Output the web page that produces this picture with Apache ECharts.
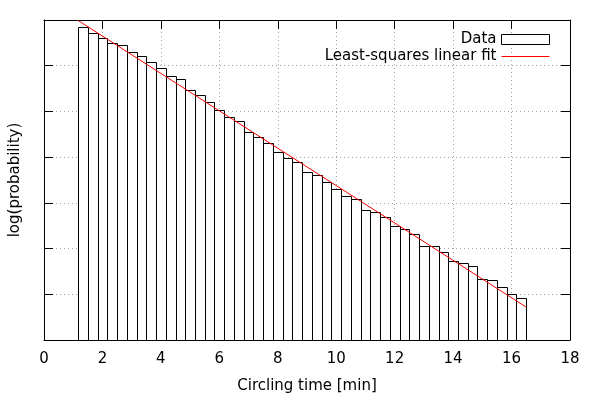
<!DOCTYPE html>
<html>
<head>
<meta charset="utf-8">
<script src="https://cdn.jsdelivr.net/npm/echarts@6/dist/echarts.min.js"></script>
<style>html,body{margin:0;padding:0;background:#fff;}#c{width:600px;height:400px;}</style>
</head>
<body>
<div id="c"></div>
<script>
// Histogram bin centres (minutes) and bin width
const binCenters = [1.3333, 1.6667, 2.0, 2.3333, 2.6667, 3.0, 3.3333, 3.6667, 4.0, 4.3333,
  4.6667, 5.0, 5.3333, 5.6667, 6.0, 6.3333, 6.6667, 7.0, 7.3333, 7.6667,
  8.0, 8.3333, 8.6667, 9.0, 9.3333, 9.6667, 10.0, 10.3333, 10.6667, 11.0,
  11.3333, 11.6667, 12.0, 12.3333, 12.6667, 13.0, 13.3333, 13.6667, 14.0, 14.3333,
  14.6667, 15.0, 15.3333, 15.6667, 16.0, 16.3333];
const binWidth = 1 / 3;
// log(probability) values (arbitrary units, axis unlabeled)
const logProb = [6.84, 6.71, 6.60, 6.49, 6.45, 6.29, 6.21, 6.08, 5.94, 5.77,
  5.70, 5.46, 5.35, 5.20, 5.03, 4.87, 4.78, 4.55, 4.43, 4.30,
  4.11, 3.98, 3.89, 3.68, 3.60, 3.45, 3.30, 3.14, 3.08, 2.84,
  2.79, 2.68, 2.49, 2.42, 2.31, 2.05, 2.05, 1.92, 1.72, 1.68,
  1.61, 1.33, 1.31, 1.15, 1.00, 0.91];
// Least-squares fit endpoints
const fitX = [1.1667, 16.5];
const fitY = [6.99, 0.72];
// Axis ticks
const xMin = 0, xMax = 18, xStep = 2;
const yMin = 0, yMax = 7, yStep = 1;

const FONT = 'DejaVu Sans';
const FS = 15;
const RED = '#ff0000';
const chart = echarts.init(document.getElementById('c'), null, {renderer: 'canvas'});
const histData = binCenters.map((c, i) => [c, logProb[i]]);
const fitData = fitX.map((x, i) => [x, fitY[i]]);
const gridLine = {show: true, lineStyle: {color: '#a0a0a0', width: 1, type: [1, 3]}};
const tickStyle = {show: true, inside: true, length: 9, lineStyle: {color: '#000', width: 1}};
const axisLineStyle = {show: true, onZero: false, lineStyle: {color: '#000', width: 1}};
const r3 = v => Math.round(v * 1000) / 1000;

chart.setOption({
  animation: false,
  backgroundColor: '#fff',
  textStyle: {fontFamily: FONT},
  grid: {left: 44, right: 30, top: 20, bottom: 60, containLabel: false},
  legend: {
    orient: 'vertical', right: 50, top: 32, align: 'right', padding: 0,
    itemWidth: 48, itemHeight: 10, itemGap: 2, itemTextGap: 11,
    textStyle: {fontFamily: FONT, fontSize: FS, color: '#000'},
    data: [
      {name: 'Data', icon: 'rect', itemStyle: {color: '#fff', borderColor: '#000', borderWidth: 1}},
      {name: 'Least-squares linear fit', icon: 'path://M0,0H48V1H0Z',
        itemStyle: {color: RED, borderColor: RED, borderWidth: 0},
        lineStyle: {color: RED, width: 1}}
    ]
  },
  xAxis: [{
    type: 'value', min: xMin, max: xMax, interval: xStep, position: 'bottom',
    name: 'Circling time [min]', nameLocation: 'middle', nameGap: 39,
    nameTextStyle: {fontFamily: FONT, fontSize: FS, color: '#000'},
    axisLine: axisLineStyle, axisTick: tickStyle,
    axisLabel: {fontFamily: FONT, fontSize: FS, color: '#000', margin: 12},
    splitLine: gridLine
  }, {
    type: 'value', min: xMin, max: xMax, interval: xStep, position: 'top',
    axisLine: axisLineStyle, axisTick: tickStyle, axisLabel: {show: false}, splitLine: {show: false}
  }],
  yAxis: [{
    type: 'value', min: yMin, max: yMax, interval: yStep, position: 'left',
    name: 'log(probability)', nameLocation: 'middle', nameGap: 21,
    nameTextStyle: {fontFamily: FONT, fontSize: FS, color: '#000'},
    axisLine: axisLineStyle, axisTick: tickStyle, axisLabel: {show: false},
    splitLine: gridLine
  }, {
    type: 'value', min: yMin, max: yMax, interval: yStep, position: 'right',
    axisLine: axisLineStyle, axisTick: tickStyle, axisLabel: {show: false}, splitLine: {show: false}
  }],
  series: [{
    name: 'Data', type: 'custom', xAxisIndex: 0, yAxisIndex: 0,
    itemStyle: {color: '#fff', borderColor: '#000', borderWidth: 1},
    renderItem: function (params, api) {
      const c = api.value(0), v = api.value(1);
      const p0 = api.coord([r3(c - binWidth / 2), v]);
      const p1 = api.coord([r3(c + binWidth / 2), 0]);
      const x0 = Math.round(p0[0]) + 0.5, x1 = Math.round(p1[0]) + 0.5;
      const y0 = Math.round(p0[1]) + 0.5, y1 = Math.round(p1[1]) + 0.5;
      return {
        type: 'rect',
        shape: {x: x0, y: y0, width: x1 - x0, height: y1 - y0},
        style: {fill: '#fff', stroke: '#000', lineWidth: 1}
      };
    },
    encode: {x: 0, y: 1},
    data: histData
  }, {
    name: 'Least-squares linear fit', type: 'line', xAxisIndex: 0, yAxisIndex: 0,
    symbol: 'none', showSymbol: false,
    lineStyle: {color: RED, width: 1},
    itemStyle: {color: RED},
    data: fitData, z: 5
  }]
});
</script>
</body>
</html>
